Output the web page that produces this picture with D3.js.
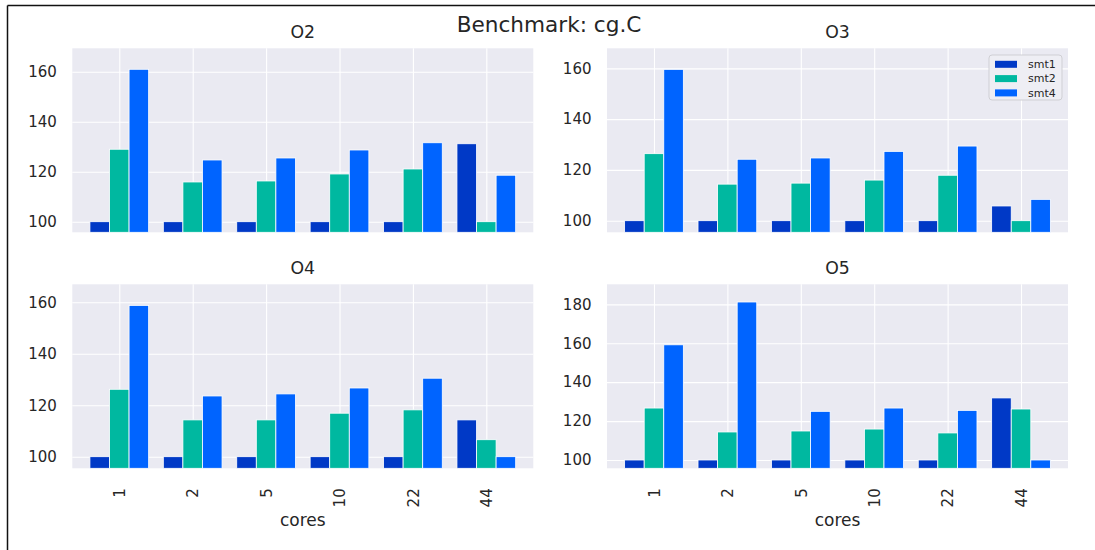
<!DOCTYPE html>
<html>
<head>
<meta charset="utf-8">
<script src="https://cdn.jsdelivr.net/npm/d3@7"></script>
<style>
  body { margin: 0; background: #fff; }
  text { font-family: "DejaVu Sans", sans-serif; fill: #262626; }
</style>
</head>
<body>
<div id="wrapper"></div>
<script>
// Data
const cores = ["1", "2", "5", "10", "22", "44"]
const seriesNames = ["smt1", "smt2", "smt4"]
const panelNames = ["O2", "O3", "O4", "O5"]

const o2Smt1 = [100, 100, 100, 100, 100, 131.2]
const o2Smt2 = [129.0, 115.9, 116.3, 119.1, 121.1, 100]
const o2Smt4 = [161.0, 124.7, 125.5, 128.7, 131.6, 118.6]

const o3Smt1 = [100, 100, 100, 100, 100, 105.8]
const o3Smt2 = [126.4, 114.4, 114.8, 116.0, 117.9, 100]
const o3Smt4 = [159.6, 124.2, 124.7, 127.3, 129.4, 108.4]

const o4Smt1 = [100, 100, 100, 100, 100, 114.3]
const o4Smt2 = [126.2, 114.3, 114.3, 116.9, 118.2, 106.6]
const o4Smt4 = [158.8, 123.6, 124.4, 126.7, 130.5, 100]

const o5Smt1 = [100, 100, 100, 100, 100, 131.9]
const o5Smt2 = [126.7, 114.4, 114.9, 115.9, 113.9, 126.2]
const o5Smt4 = [159.2, 181.2, 125.0, 126.7, 125.5, 100]

const yTicksSmall = [100, 120, 140, 160]
const yTicksBig = [100, 120, 140, 160, 180]

const colors = ["#0039c6", "#00b8a0", "#0064ff"]

// Layout
let dimensions = {
    width: 1095,
    height: 550,
    plotWidth: 461,
    plotHeight: 184,
}
const lefts = [72.3, 607]
const tops = [48.3, 284.3]

const panels = [
    { name: panelNames[0], col: 0, row: 0, yDomain: [95.76, 169.4], ticks: yTicksSmall, values: [o2Smt1, o2Smt2, o2Smt4] },
    { name: panelNames[1], col: 1, row: 0, yDomain: [95.43, 167.9], ticks: yTicksSmall, values: [o3Smt1, o3Smt2, o3Smt4], legend: true },
    { name: panelNames[2], col: 0, row: 1, yDomain: [95.49, 167.0], ticks: yTicksSmall, values: [o4Smt1, o4Smt2, o4Smt4] },
    { name: panelNames[3], col: 1, row: 1, yDomain: [95.73, 190.3], ticks: yTicksBig, values: [o5Smt1, o5Smt2, o5Smt4] },
]

const wrapper = d3.select("#wrapper")
    .append("svg")
        .attr("width", dimensions.width)
        .attr("height", dimensions.height)

// frame lines (top and left)
wrapper.append("line")
    .attr("x1", 7.5).attr("x2", dimensions.width)
    .attr("y1", 5.5).attr("y2", 5.5)
    .attr("stroke", "#111").attr("stroke-width", 1.5)
wrapper.append("line")
    .attr("x1", 7.5).attr("x2", 7.5)
    .attr("y1", 5.5).attr("y2", dimensions.height)
    .attr("stroke", "#111").attr("stroke-width", 1.5)

wrapper.append("text")
    .attr("x", 549)
    .attr("y", 31.7)
    .attr("text-anchor", "middle")
    .style("font-size", "21.6px")
    .text("Benchmark: cg.C")

const barWidth = 0.8 / seriesNames.length

panels.forEach(p => {
    const bounds = wrapper.append("g")
        .attr("transform", `translate(${lefts[p.col]}, ${tops[p.row]})`)

    const xScale = d3.scaleLinear()
        .domain([-0.64, cores.length - 1 + 0.64])
        .range([0, dimensions.plotWidth])

    const yScale = d3.scaleLinear()
        .domain(p.yDomain)
        .range([dimensions.plotHeight, 0])

    bounds.append("rect")
        .attr("width", dimensions.plotWidth)
        .attr("height", dimensions.plotHeight)
        .attr("fill", "#eaeaf2")

    // y axis + horizontal grid
    const yAxis = bounds.append("g")
        .call(d3.axisLeft(yScale)
            .tickValues(p.ticks)
            .tickSize(-dimensions.plotWidth)
            .tickPadding(15.5))
    yAxis.select(".domain").remove()
    yAxis.selectAll("line").attr("stroke", "#fff").attr("stroke-width", 1.1)
    yAxis.selectAll("text")
        .attr("fill", "#262626")
        .style("font-size", "15px")
        .style("font-family", "DejaVu Sans, sans-serif")

    // x axis + vertical grid
    const xAxis = bounds.append("g")
        .attr("transform", `translate(0, ${dimensions.plotHeight})`)
        .call(d3.axisBottom(xScale)
            .tickValues(d3.range(cores.length))
            .tickFormat(i => p.row === 1 ? cores[i] : "")
            .tickSize(-dimensions.plotHeight))
    xAxis.select(".domain").remove()
    xAxis.selectAll("line").attr("stroke", "#fff").attr("stroke-width", 1.1)
    xAxis.selectAll("text")
        .attr("fill", "#262626")
        .attr("x", 0)
        .attr("y", 0)
        .attr("dy", "0.35em")
        .attr("transform", "translate(0, 20) rotate(-90)")
        .attr("text-anchor", "end")
        .style("font-size", "15px")
        .style("font-family", "DejaVu Sans, sans-serif")

    // bars
    p.values.forEach((vals, j) => {
        bounds.append("g")
            .selectAll("rect")
            .data(vals)
            .join("rect")
                .attr("x", (d, i) => xScale(i - 0.4 + j * barWidth))
                .attr("width", xScale(barWidth) - xScale(0))
                .attr("y", d => yScale(d))
                .attr("height", d => dimensions.plotHeight - yScale(d))
                .attr("fill", colors[j])
                .attr("stroke", "#fff")
                .attr("stroke-width", 0.8)
    })

    bounds.append("text")
        .attr("x", dimensions.plotWidth / 2)
        .attr("y", -10)
        .attr("text-anchor", "middle")
        .style("font-size", "17.3px")
        .text(p.name)

    if (p.row === 1) {
        bounds.append("text")
            .attr("x", dimensions.plotWidth / 2)
            .attr("y", 526.5 - tops[1])
            .attr("text-anchor", "middle")
            .style("font-size", "17px")
            .text("cores")
    }

    if (p.legend) {
        const legend = bounds.append("g")
            .attr("transform", `translate(${dimensions.plotWidth - 79}, 6.7)`)
        legend.append("rect")
            .attr("width", 73)
            .attr("height", 45)
            .attr("rx", 3)
            .attr("fill", "#eeeef4")
            .attr("stroke", "#cfcfd4")
            .attr("stroke-width", 1)
        seriesNames.forEach((s, j) => {
            const rowY = 9.3 + j * 14.3
            legend.append("rect")
                .attr("x", 6)
                .attr("y", rowY - 3.5)
                .attr("width", 22)
                .attr("height", 7)
                .attr("fill", colors[j])
            legend.append("text")
                .attr("x", 39)
                .attr("y", rowY)
                .attr("dy", "0.35em")
                .style("font-size", "11px")
                .text(s)
        })
    }
})
</script>
</body>
</html>
